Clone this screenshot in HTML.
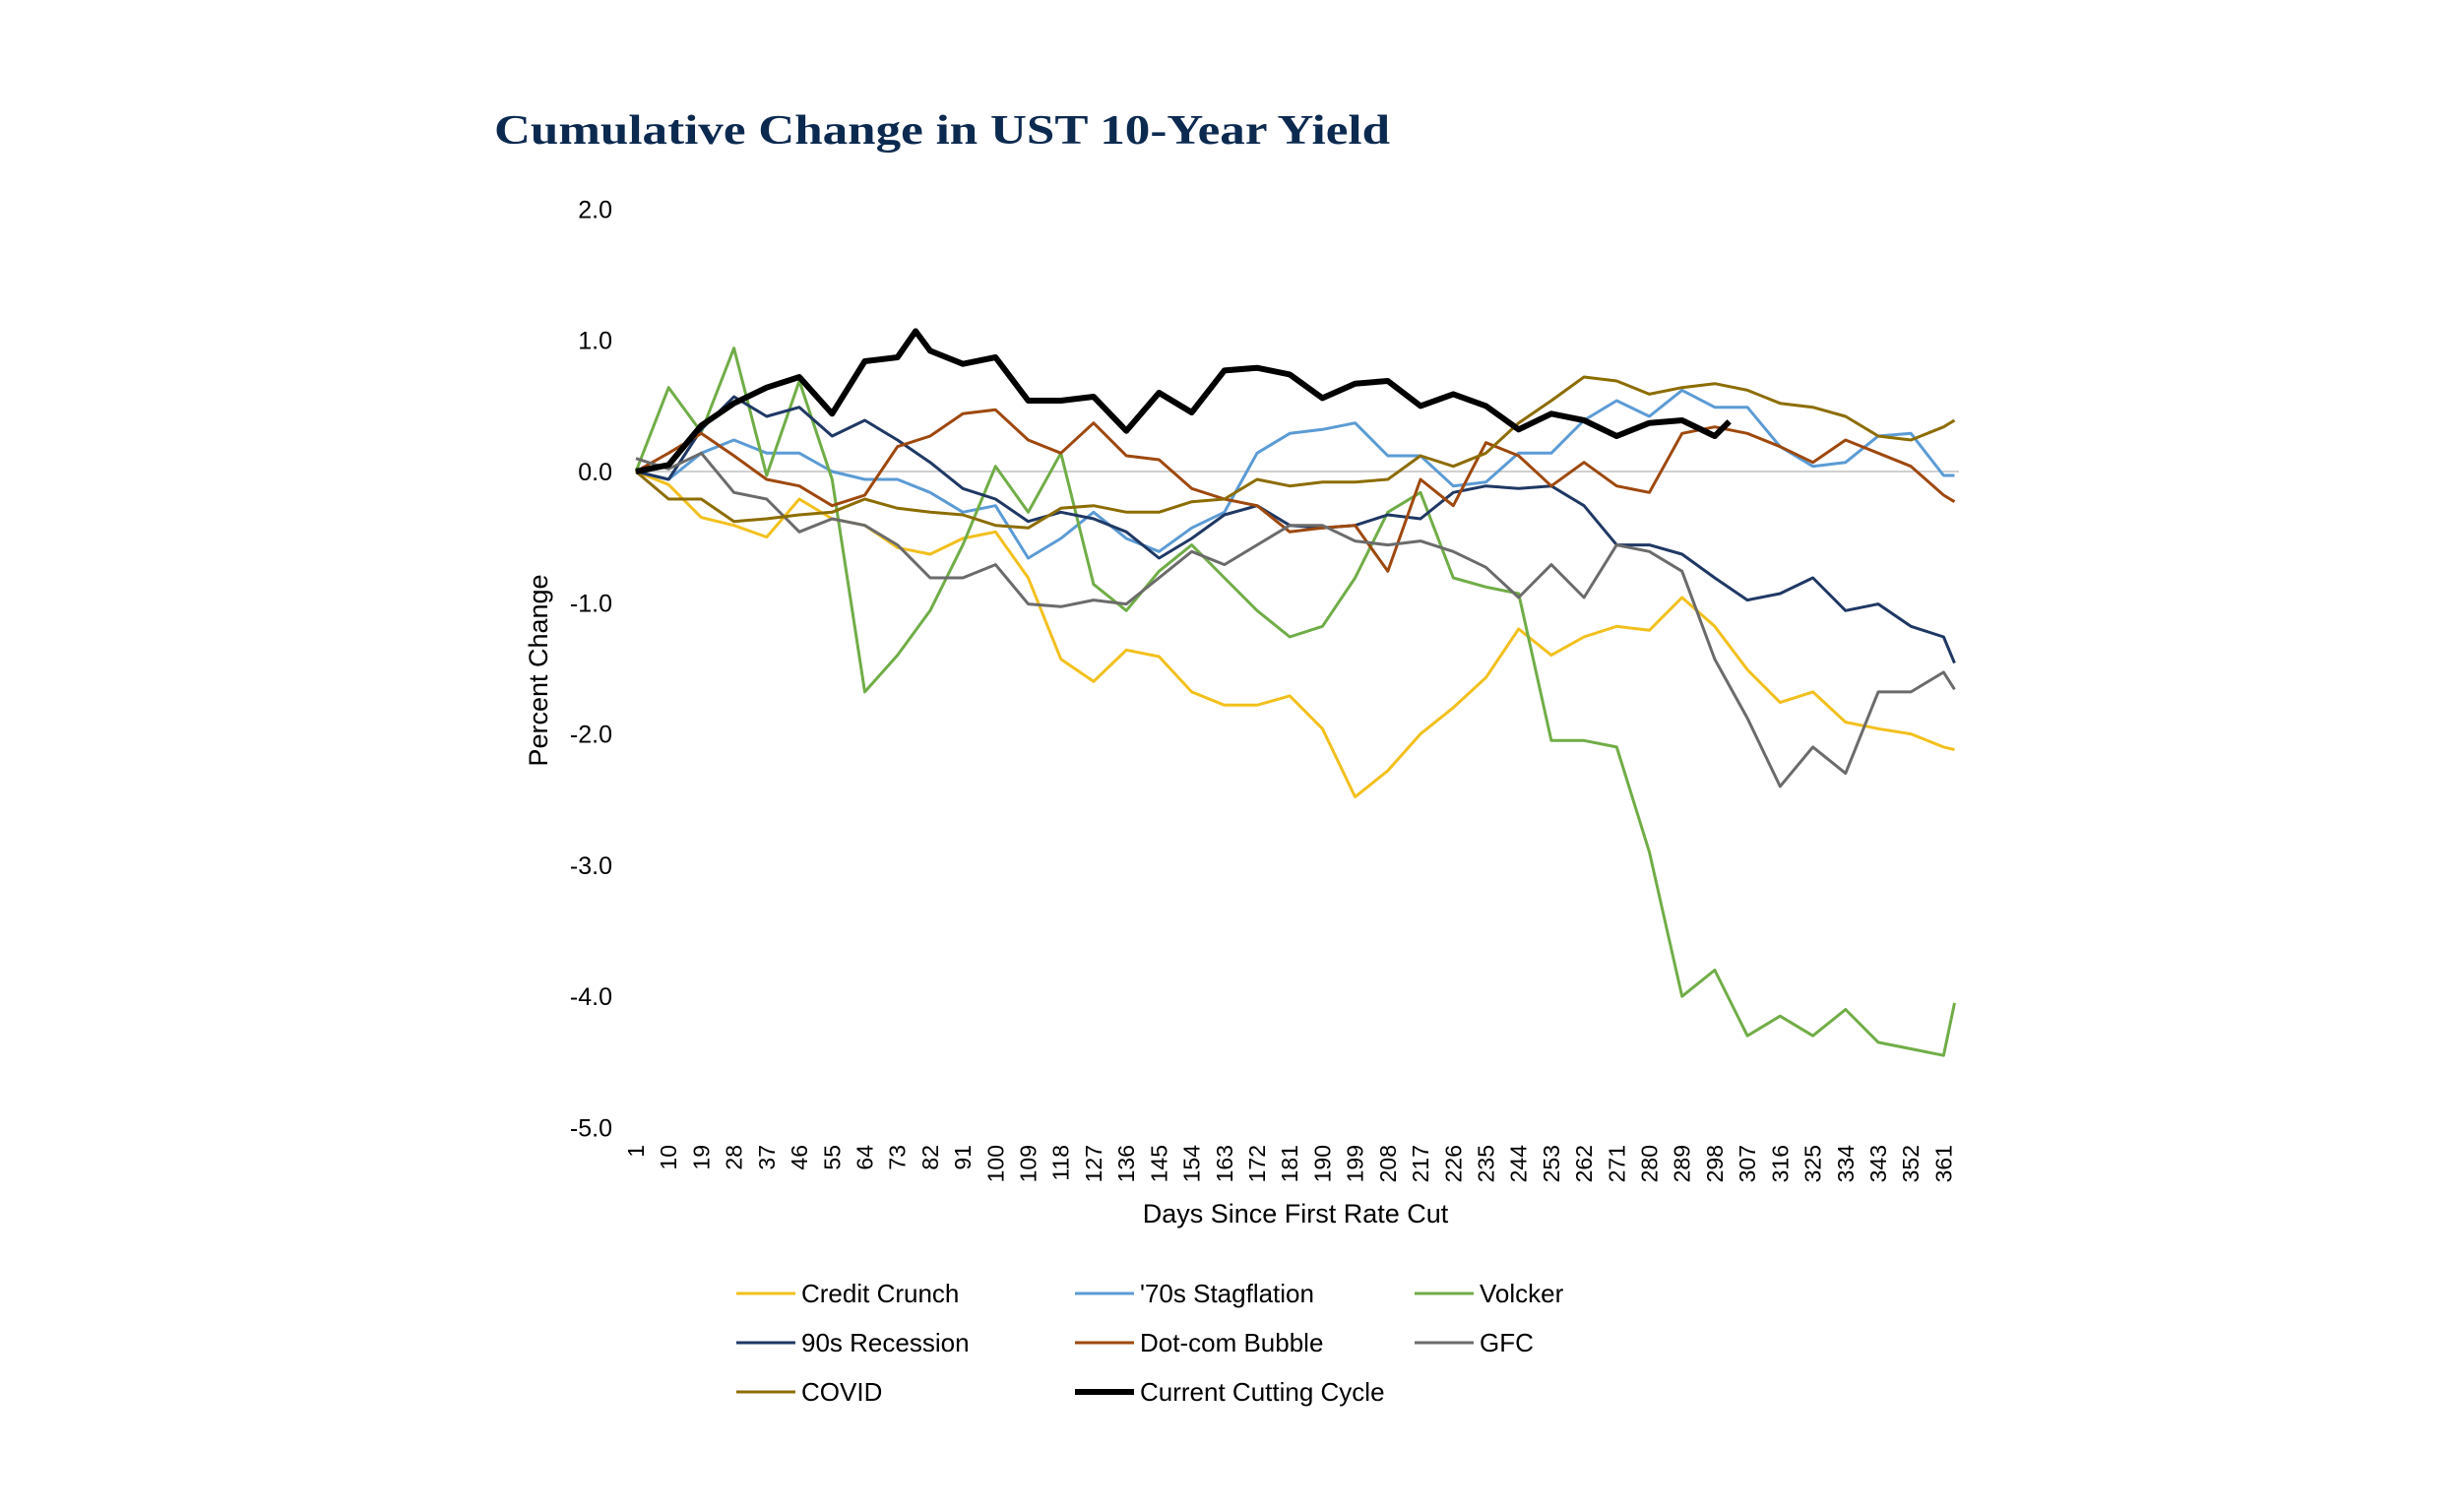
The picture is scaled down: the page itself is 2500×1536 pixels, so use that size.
<!DOCTYPE html>
<html><head><meta charset="utf-8"><style>
html,body{margin:0;padding:0;background:#fff;}
svg{display:block;font-family:"Liberation Sans",Arial,sans-serif;}
</style></head><body>
<svg id="chart" width="2500" height="1536" viewBox="0 0 2500 1536">
<text x="502" y="146" font-family="Liberation Serif, serif" font-weight="bold" font-size="42" fill="#0c2a50" textLength="910" lengthAdjust="spacingAndGlyphs">Cumulative Change in UST 10-Year Yield</text>
<g id="yticks"></g>
<g id="xticks"></g>
<text x="0" y="0" transform="translate(556,681) rotate(-90)" text-anchor="middle" font-size="27" fill="#000">Percent Change</text>
<text x="1316" y="1242" text-anchor="middle" font-size="27" fill="#000">Days Since First Rate Cut</text>
<g id="series"></g>
<g id="legend"></g>
</svg>
<script>
const days = [1,10,19,28,37,46,55,64,73,82,91,100,109,118,127,136,145,154,163,172,181,190,199,208,217,226,235,244,253,262,271,280,289,298,307,316,325,334,343,352,361,364];
const yTickValues = [2,1,0,-1,-2,-3,-4,-5];
const xTickLabels = [1,10,19,28,37,46,55,64,73,82,91,100,109,118,127,136,145,154,163,172,181,190,199,208,217,226,235,244,253,262,271,280,289,298,307,316,325,334,343,352,361];
const seriesNames = ["Credit Crunch","'70s Stagflation","Volcker","90s Recession","Dot-com Bubble","GFC","COVID","Current Cutting Cycle"];
const creditCrunch = [0,-0.1,-0.35,-0.41,-0.5,-0.21,-0.36,-0.41,-0.58,-0.63,-0.51,-0.46,-0.81,-1.43,-1.6,-1.36,-1.41,-1.68,-1.78,-1.78,-1.71,-1.96,-2.48,-2.28,-2.0,-1.8,-1.57,-1.2,-1.4,-1.26,-1.18,-1.21,-0.96,-1.18,-1.51,-1.76,-1.68,-1.91,-1.96,-2.0,-2.1,-2.12];
const stagflation70s = [0,-0.06,0.14,0.24,0.14,0.14,0,-0.06,-0.06,-0.16,-0.31,-0.26,-0.66,-0.51,-0.31,-0.51,-0.61,-0.43,-0.31,0.14,0.29,0.32,0.37,0.12,0.12,-0.11,-0.08,0.14,0.14,0.39,0.54,0.42,0.62,0.49,0.49,0.19,0.04,0.07,0.27,0.29,-0.03,-0.03];
const volcker = [0,0.64,0.3,0.94,-0.03,0.69,-0.06,-1.68,-1.4,-1.06,-0.56,0.04,-0.31,0.14,-0.86,-1.06,-0.76,-0.56,-0.81,-1.06,-1.26,-1.18,-0.81,-0.31,-0.16,-0.81,-0.88,-0.93,-2.05,-2.05,-2.1,-2.9,-4.0,-3.8,-4.3,-4.15,-4.3,-4.1,-4.35,-4.4,-4.45,-4.05];
const recession90s = [0,-0.06,0.32,0.57,0.42,0.49,0.27,0.39,0.24,0.07,-0.13,-0.21,-0.38,-0.31,-0.36,-0.46,-0.66,-0.51,-0.33,-0.26,-0.41,-0.43,-0.41,-0.33,-0.36,-0.16,-0.11,-0.13,-0.11,-0.26,-0.56,-0.56,-0.63,-0.81,-0.98,-0.93,-0.81,-1.06,-1.01,-1.18,-1.26,-1.46];
const dotcom = [0,0.14,0.29,0.12,-0.06,-0.11,-0.26,-0.18,0.19,0.27,0.44,0.47,0.24,0.14,0.37,0.12,0.09,-0.13,-0.21,-0.26,-0.46,-0.43,-0.41,-0.76,-0.06,-0.26,0.22,0.12,-0.11,0.07,-0.11,-0.16,0.29,0.34,0.29,0.19,0.07,0.24,0.14,0.04,-0.18,-0.23];
const gfc = [0.1,0.02,0.14,-0.16,-0.21,-0.46,-0.36,-0.41,-0.56,-0.81,-0.81,-0.71,-1.01,-1.03,-0.98,-1.01,-0.81,-0.61,-0.71,-0.56,-0.41,-0.41,-0.53,-0.56,-0.53,-0.61,-0.73,-0.96,-0.71,-0.96,-0.56,-0.61,-0.76,-1.43,-1.88,-2.4,-2.1,-2.3,-1.68,-1.68,-1.53,-1.66];
const covid = [0,-0.21,-0.21,-0.38,-0.36,-0.33,-0.31,-0.21,-0.28,-0.31,-0.33,-0.41,-0.43,-0.28,-0.26,-0.31,-0.31,-0.23,-0.21,-0.06,-0.11,-0.08,-0.08,-0.06,0.12,0.04,0.14,0.37,0.54,0.72,0.69,0.59,0.64,0.67,0.62,0.52,0.49,0.42,0.27,0.24,0.34,0.39];
const currentDays = [1,10,19,28,37,46,55,64,73,78,82,91,100,109,118,127,136,145,154,163,172,181,190,199,208,217,226,235,244,253,262,271,280,289,298,302];
const currentCycle = [0,0.05,0.35,0.52,0.64,0.72,0.44,0.84,0.87,1.07,0.92,0.82,0.87,0.54,0.54,0.57,0.31,0.6,0.45,0.77,0.79,0.74,0.56,0.67,0.69,0.5,0.59,0.5,0.32,0.44,0.39,0.27,0.37,0.39,0.27,0.38];

const NS = "http://www.w3.org/2000/svg";
function xScale(d){ return 646 + (d - 1) * 3.69; }
function yScale(v){ return 479 - v * 133.3; }

const yg = document.getElementById('yticks');
for (const v of yTickValues) {
  const t = document.createElementNS(NS, 'text');
  t.setAttribute('x', 622);
  t.setAttribute('y', yScale(v) + 9);
  t.setAttribute('text-anchor', 'end');
  t.setAttribute('font-size', '25');
  t.textContent = v.toFixed(1);
  
  
  yg.appendChild(t);
}
const zl = document.createElementNS(NS, 'line');
zl.setAttribute('x1', 646); zl.setAttribute('x2', 1990);
zl.setAttribute('y1', yScale(0)); zl.setAttribute('y2', yScale(0));
zl.setAttribute('stroke', '#d0d0d0'); zl.setAttribute('stroke-width', '2');


yg.appendChild(zl);

const xg = document.getElementById('xticks');
for (const d of xTickLabels) {
  const t = document.createElementNS(NS, 'text');
  const x = xScale(d) + 8;
  t.setAttribute('transform', 'translate(' + x + ',1163) rotate(-90)');
  t.setAttribute('text-anchor', 'end');
  t.setAttribute('font-size', '23');
  t.textContent = d;
  
  
  xg.appendChild(t);
}

const colors = ["#f2c01d","#5b9bd5","#70ad47","#1f3864","#9e480e","#6b6b6b","#8c6d00","#000000"];
const allSeries = [creditCrunch, stagflation70s, volcker, recession90s, dotcom, gfc, covid, currentCycle];
const sg = document.getElementById('series');
allSeries.forEach((vals, i) => {
  const ds = i === 7 ? currentDays : days;
  const pts = vals.map((v, k) => xScale(ds[k]).toFixed(1) + ',' + yScale(v).toFixed(1)).join(' ');
  const p = document.createElementNS(NS, 'polyline');
  p.setAttribute('points', pts);
  p.setAttribute('fill', 'none');
  p.setAttribute('stroke', colors[i]);
  p.setAttribute('stroke-width', i === 7 ? '6' : '3');
  p.setAttribute('stroke-linejoin', 'round');
  
  
  sg.appendChild(p);
});

const lg = document.getElementById('legend');
const colX = [748, 1092, 1437];
const rowY = [1314, 1364, 1414];
seriesNames.forEach((name, i) => {
  const cx = colX[i % 3], cy = rowY[Math.floor(i / 3)];
  const l = document.createElementNS(NS, 'line');
  l.setAttribute('x1', cx); l.setAttribute('x2', cx + 60);
  l.setAttribute('y1', cy); l.setAttribute('y2', cy);
  l.setAttribute('stroke', colors[i]);
  l.setAttribute('stroke-width', i === 7 ? '6' : '3');
  
  
  lg.appendChild(l);
  const t = document.createElementNS(NS, 'text');
  t.setAttribute('x', cx + 66); t.setAttribute('y', cy + 9);
  t.setAttribute('font-size', '26');
  t.textContent = name;
  
  
  lg.appendChild(t);
});
</script>
</body></html>
